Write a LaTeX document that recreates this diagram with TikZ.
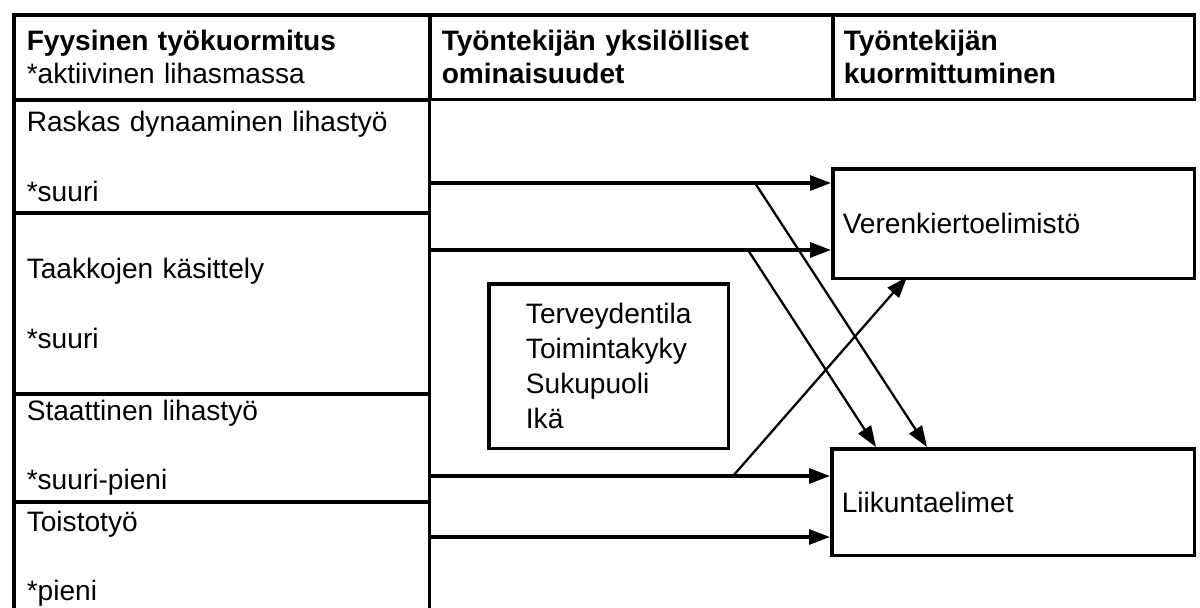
\documentclass[tikz,border=0pt]{standalone}
\usepackage{fontspec}
\setmainfont{Liberation Sans}
\usetikzlibrary{arrows.meta}
\tikzstyle{rect} = [rectangle, draw=black, line width=2pt, anchor=north west, align=left, inner ysep=0pt, font=\fontsize{16}{19.9}\selectfont]
\tikzstyle{headrect} = [rect, font=\fontsize{16}{18.7}\selectfont\bfseries]
\tikzstyle{arrowline} = [-{Triangle[length=0.42cm,width=0.3cm]}, line width=1.8pt]
\tikzstyle{crossline} = [-{Triangle[length=0.42cm,width=0.3cm]}, line width=1.3pt]

\begin{document}
\begin{tikzpicture}[x=0.02cm, y=-0.02cm]
            \useasboundingbox (0,0) rectangle (1200,608);
            \clip (0,0) rectangle (1200,608);

            % header row
            \node (h1) [headrect, minimum width=8.32cm, minimum height=1.7cm, text width=7.8cm, inner xsep=0.26cm] at (12,13) {Fyysinen työkuormitus\\ \mdseries *aktiivinen lihasmassa};
            \node (h2) [headrect, minimum width=8.06cm, minimum height=1.7cm, text width=7.58cm, inner xsep=0.24cm] at (428,13) {Työntekijän yksilölliset\\ominaisuudet};
            \node (h3) [headrect, minimum width=7.24cm, minimum height=1.7cm, text width=6.8cm, inner xsep=0.22cm] at (831,13) {Työntekijän\\kuormittuminen};

            % first column
            \foreach \y/\h/\a/\b [count=\i] in {98/2.26/Raskas dynaaminen lihastyö/*suuri, 211/3.62/Taakkojen käsittely/*suuri, 392/2.16/Staattinen lihastyö/*suuri-pieni, 500/2.28/Toistotyö/*pieni}
            {
                \node (r\i) [rect, minimum width=8.32cm, minimum height=\h cm, text width=7.8cm, inner xsep=0.26cm] at (12,\y) {\a\\[0.7cm]\b};
            }

            \node (traits) [rect, minimum width=4.8cm, minimum height=3.3cm] at (487,282) {Terveydentila\\Toimintakyky\\Sukupuoli\\Ikä};

            \node (vere) [rect, minimum width=7.24cm, minimum height=2.2cm, text width=6.84cm, inner xsep=0.2cm] at (831,167) {Verenkiertoelimistö};
            \node (liik) [rect, minimum width=7.26cm, minimum height=2.14cm, text width=6.86cm, inner xsep=0.2cm] at (830,447) {Liikuntaelimet};

            \coordinate (a1) at (428,183);
            \coordinate (a2) at (428,250);
            \coordinate (a3) at (428,476);
            \coordinate (a4) at (428,537);
            \draw [arrowline] (a1) -- (a1 -| vere.west);
            \draw [arrowline] (a2) -- (a2 -| vere.west);
            \draw [arrowline] (a3) -- (a3 -| liik.west);
            \draw [arrowline] (a4) -- (a4 -| liik.west);

            \coordinate (c1) at (755,183);
            \coordinate (c2) at (748,250);
            \coordinate (c3) at (733,476);
            \coordinate (e1) at (927,447);
            \coordinate (e2) at (876,447);
            \coordinate (e3) at (907,277);
            \draw [crossline] (c1) -- (e1);
            \draw [crossline] (c2) -- (e2);
            \draw [crossline] (c3) -- (e3);
        \end{tikzpicture}
\end{document}
